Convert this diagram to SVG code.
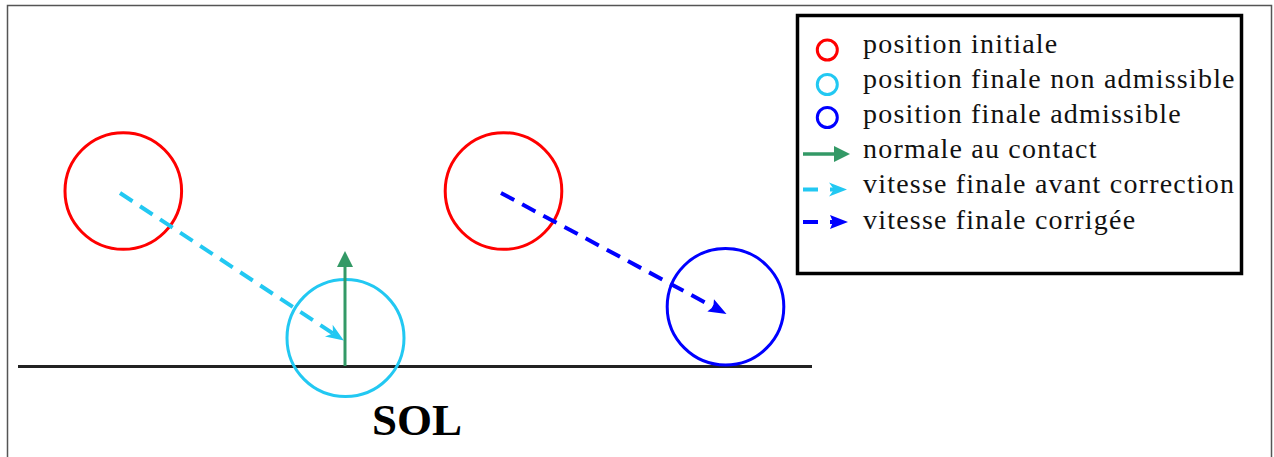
<svg xmlns="http://www.w3.org/2000/svg" width="1274" height="457" viewBox="0 0 1274 457">
<style>
.circ{fill:none;stroke-width:3}
.red{stroke:#ff0000}
.cyan{stroke:#22c8f2}
.blue{stroke:#0000ff}
.green{stroke:#339966}
.dash{stroke-width:4;stroke-dasharray:15 9;fill:none}
.lbl{font-family:"Liberation Serif","Times New Roman",serif;font-size:28px;letter-spacing:1.2px;fill:#111}
.lcirc{fill:none;stroke-width:3}
</style>
<defs>
<marker id="hCyan" markerUnits="userSpaceOnUse" viewBox="0 0 18 16" markerWidth="18" markerHeight="16" refX="5" refY="8" orient="auto" overflow="visible">
<path d="M0,1 L18,8 L0,15 L5,8 Z" fill="#22c8f2"/>
</marker>
<marker id="hBlue" markerUnits="userSpaceOnUse" viewBox="0 0 18 16" markerWidth="18" markerHeight="16" refX="4" refY="8" orient="auto" overflow="visible">
<path d="M0,1 L18,8 L0,15 L3,8 Z" fill="#0000ff"/>
</marker>
<marker id="hGreen" markerUnits="userSpaceOnUse" viewBox="0 0 16 16" markerWidth="16" markerHeight="16" refX="2" refY="8" orient="auto" overflow="visible">
<path d="M0,0 L16,8 L0,16 Z" fill="#339966"/>
</marker>
</defs>
<rect x="0" y="0" width="1274" height="457" fill="#ffffff"/>
<rect id="frame" x="7.5" y="5.5" width="1264" height="470" fill="none" stroke="#555" stroke-width="1.5"/>
<g id="ground">
<line x1="18" y1="366.5" x2="812" y2="366.5" stroke="#222" stroke-width="3"/>
<text x="372" y="435" font-family="Liberation Serif,'Times New Roman',serif" font-size="45" font-weight="bold" fill="#000">SOL</text>
</g>
<g id="initial1"><circle class="circ red" cx="123.3" cy="191" r="58.3"/></g>
<g id="nonadm"><circle class="circ cyan" cx="345.5" cy="338" r="58.5"/></g>
<g id="initial2"><circle class="circ red" cx="503.5" cy="191" r="58.3"/></g>
<g id="adm"><circle class="circ blue" cx="725.5" cy="306.7" r="58.3"/></g>
<g id="connectors">
<line class="dash cyan" x1="120" y1="193" x2="333" y2="333.4" marker-end="url(#hCyan)"/>
<line x1="345" y1="366" x2="345" y2="265" class="green" stroke-width="3" marker-end="url(#hGreen)"/>
<line class="dash blue" x1="501" y1="193" x2="714.2" y2="307.3" marker-end="url(#hBlue)"/>
</g>
<g id="legend">
<rect x="797.5" y="15.5" width="444" height="258" fill="#fff" stroke="#000" stroke-width="3.5"/>
<circle class="lcirc red" cx="827.3" cy="50" r="10"/>
<circle class="lcirc cyan" cx="827.3" cy="84.5" r="10"/>
<circle class="lcirc blue" cx="827.3" cy="117.5" r="10"/>
<line x1="803" y1="154" x2="836" y2="154" class="green" stroke-width="3.5" marker-end="url(#hGreen)"/>
<line x1="803" y1="189.5" x2="834" y2="189.5" class="cyan" stroke-width="4" stroke-dasharray="15 12" marker-end="url(#hCyan)"/>
<line x1="803" y1="222" x2="834" y2="222" class="blue" stroke-width="4" stroke-dasharray="15 12" marker-end="url(#hBlue)"/>
<text class="lbl" x="863" y="52.5">position initiale</text>
<text class="lbl" x="863" y="87.7">position finale non admissible</text>
<text class="lbl" x="863" y="122.9">position finale admissible</text>
<text class="lbl" x="863" y="158.1">normale au contact</text>
<text class="lbl" x="863" y="193.3">vitesse finale avant correction</text>
<text class="lbl" x="863" y="228.5">vitesse finale corrigée</text>
</g>
</svg>
